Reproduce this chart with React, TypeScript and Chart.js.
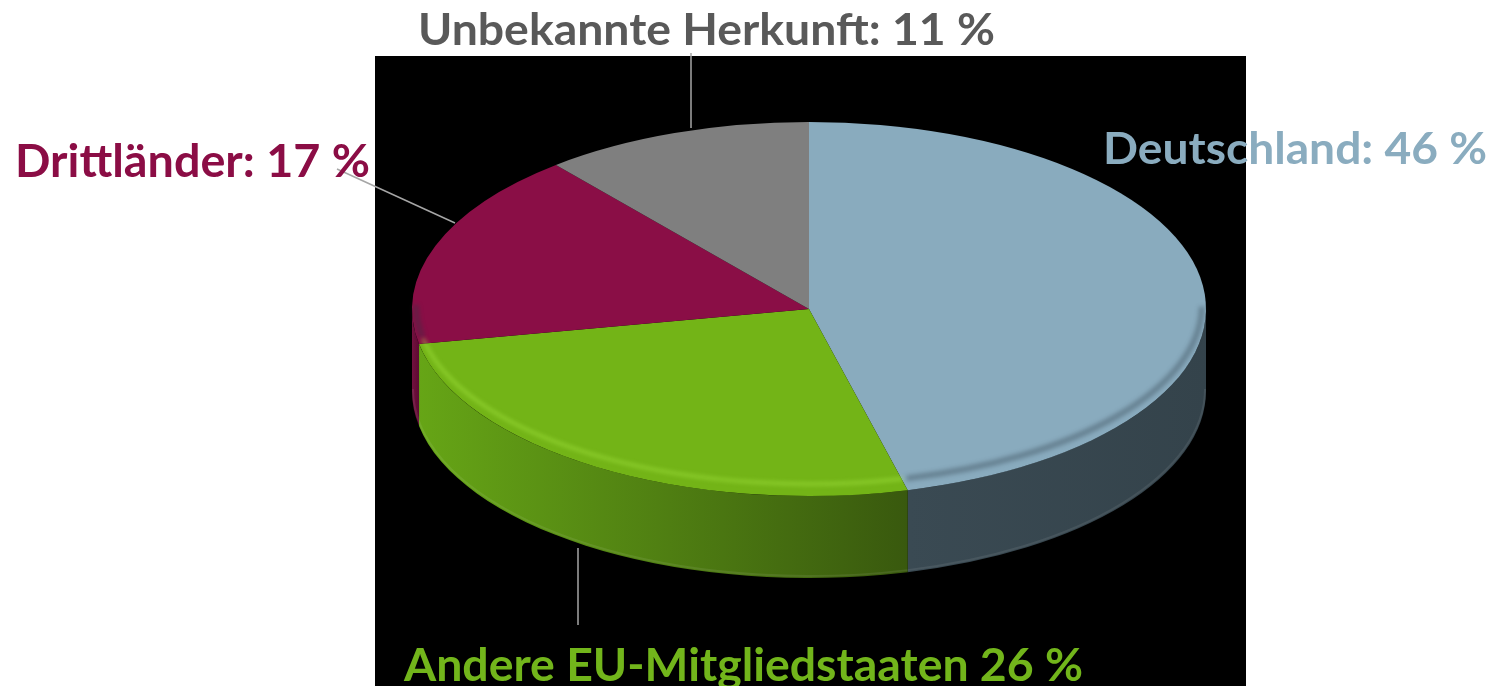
import React, { useEffect, useRef } from 'react';
import { Chart, registerables } from 'chart.js';

Chart.register(...registerables);

// ---- data ----
const categories = ['Deutschland', 'Andere EU-Mitgliedstaaten', 'Drittländer', 'Unbekannte Herkunft'];
const shares = [46, 26, 17, 11];
const separators = [':', '', ':', ':'];

// ---- styles ----
const topColors = ['#89ABBE', '#73B417', '#8A0E46', '#7F7F7F'];
const sideLight = ['#3A4A53', '#66A516', '#74103F', '#5C5C5C'];
const sideDark = ['#34434B', '#39590E', '#5C0A32', '#4A4A4A'];
const labelColors = ['#8AACBF', '#72B51B', '#8B0D45', '#595959'];

// ---- layout (px) ----
const W = 1494;
const H = 686;
const CX = 809;
const CY = 309;
const RX = 397;
const RY = 187;
const DEPTH = 82;
const PANEL = { x: 375, y: 56, w: 871, h: 630 };
const labelBoxes = [
  { x: 1103, base: 164, w: 384, cap: 32 },
  { x: 404, base: 681, w: 679, cap: 33 },
  { x: 15, base: 177, w: 355, cap: 34 },
  { x: 418, base: 45, w: 577, cap: 32 },
];
const leaders: (number[][] | null)[] = [
  null,
  [[578, 548], [578, 625]],
  [[337, 169], [455, 223]],
  [[691, 53], [691, 128]],
];

const FONT_FAMILY = 'Lato, "Open Sans", "DejaVu Sans", sans-serif';

const pie3d = {
  id: 'pie3d',
  beforeDraw(chart: any) {
    const ctx = chart.ctx;
    ctx.save();
    ctx.fillStyle = '#ffffff';
    ctx.fillRect(0, 0, chart.width, chart.height);
    ctx.fillStyle = '#000000';
    ctx.fillRect(PANEL.x, PANEL.y, PANEL.w, PANEL.h);
    ctx.restore();
  },
  beforeDatasetsDraw(chart: any) {
    const ctx = chart.ctx;
    const arcs = chart.getDatasetMeta(0).data;
    if (!arcs.length) return;
    const a0 = arcs[0];
    const cx = a0.x;
    const cy = a0.y;
    const rx = a0.outerRadius;
    const ry = rx * (RY / RX);
    // side walls (front half only)
    arcs.forEach((arc: any, i: number) => {
      const lo = Math.max(arc.startAngle, 0);
      const hi = Math.min(arc.endAngle, Math.PI);
      if (hi <= lo) return;
      ctx.save();
      ctx.beginPath();
      ctx.ellipse(cx, cy, rx, ry, 0, lo, hi, false);
      ctx.ellipse(cx, cy + DEPTH, rx, ry, 0, hi, lo, true);
      ctx.closePath();
      const xa = cx + rx * Math.cos(hi);
      const xb = cx + rx * Math.cos(lo);
      const g = ctx.createLinearGradient(Math.min(xa, xb), 0, Math.max(xa, xb), 0);
      g.addColorStop(0, sideLight[i]);
      g.addColorStop(1, sideDark[i]);
      ctx.fillStyle = g;
      ctx.fill();
      // subtle lighter bottom rim
      ctx.beginPath();
      ctx.ellipse(cx, cy + DEPTH - 2, rx - 1, ry, 0, lo, hi, false);
      ctx.strokeStyle = 'rgba(255,255,255,0.08)';
      ctx.lineWidth = 2;
      ctx.stroke();
      ctx.restore();
    });
    // flatten the top face into an ellipse
    ctx.save();
    ctx.translate(cx, cy);
    ctx.scale(1, ry / rx);
    ctx.translate(-cx, -cy);
  },
  afterDatasetsDraw(chart: any) {
    const ctx = chart.ctx;
    ctx.restore();
    const arcs = chart.getDatasetMeta(0).data;
    if (!arcs.length) return;
    const a0 = arcs[0];
    const cx = a0.x;
    const cy = a0.y;
    const rx = a0.outerRadius;
    const ry = rx * (RY / RX);
    // bevel highlight along the front rim of the top face
    arcs.forEach((arc: any, i: number) => {
      const lo = Math.max(arc.startAngle, 0);
      const hi = Math.min(arc.endAngle, Math.PI);
      if (hi <= lo) return;
      ctx.save();
      ctx.beginPath();
      ctx.ellipse(cx, cy - 4, rx - 4, ry - 8, 0, lo + 0.01, hi, false);
      ctx.strokeStyle = i === 1 ? 'rgba(170,235,70,0.55)' : 'rgba(40,55,65,0.35)';
      ctx.lineWidth = i === 1 ? 3 : 6;
      ctx.filter = 'blur(2px)';
      ctx.stroke();
      ctx.restore();
    });
  },
  afterDraw(chart: any) {
    const ctx = chart.ctx;
    ctx.save();
    ctx.strokeStyle = '#A6A6A6';
    ctx.lineWidth = 1.5;
    leaders.forEach((pts) => {
      if (!pts) return;
      ctx.beginPath();
      ctx.moveTo(pts[0][0], pts[0][1]);
      ctx.lineTo(pts[1][0], pts[1][1]);
      ctx.stroke();
    });
    ctx.font = `bold 100px ${FONT_FAMILY}`;
    const capRatio = (ctx.measureText('H').actualBoundingBoxAscent || 72) / 100;
    categories.forEach((cat, i) => {
      const text = `${cat}${separators[i]} ${shares[i]} %`;
      const box = labelBoxes[i];
      const size = box.cap / capRatio;
      ctx.font = `bold ${size}px ${FONT_FAMILY}`;
      const m = ctx.measureText(text);
      const sx = box.w / m.width;
      ctx.save();
      ctx.translate(box.x, box.base);
      ctx.scale(sx, 1);
      ctx.fillStyle = labelColors[i];
      ctx.textBaseline = 'alphabetic';
      ctx.textAlign = 'left';
      ctx.fillText(text, 0, 0);
      ctx.restore();
    });
    ctx.restore();
  },
};

export default function App() {
  const canvasRef = useRef<HTMLCanvasElement | null>(null);
  useEffect(() => {
    const canvas = canvasRef.current;
    if (!canvas) return;
    const chart = new Chart(canvas, {
      type: 'pie',
      data: {
        labels: categories,
        datasets: [
          {
            data: shares,
            backgroundColor: topColors,
            borderWidth: 0,
            clip: false,
          } as any,
        ],
      },
      options: {
        animation: false,
        responsive: false,
        devicePixelRatio: 1,
        radius: RX,
        layout: {
          padding: { left: 2 * CX - W, right: 0, top: 0, bottom: H - 2 * CY },
        },
        plugins: {
          legend: { display: false },
          tooltip: { enabled: false },
          title: { display: false },
        },
      } as any,
      plugins: [pie3d],
    });
    return () => chart.destroy();
  }, []);
  return (
    <div style={{ position: 'absolute', left: 0, top: 0, width: W, height: H }}>
      <canvas ref={canvasRef} width={W} height={H} style={{ display: 'block', width: W, height: H }} />
    </div>
  );
}
